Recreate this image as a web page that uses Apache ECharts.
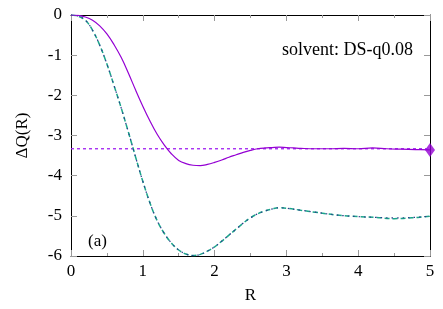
<!DOCTYPE html>
<html><head><meta charset="utf-8">
<script src="https://cdn.jsdelivr.net/npm/echarts@6/dist/echarts.min.js"></script>
<style>html,body{margin:0;padding:0;background:#fff}#c{width:443px;height:309px}</style>
</head><body><div id="c"></div>
<script>
var rPurple = [0,0.1,0.2,0.3,0.4,0.5,0.6,0.7,0.8,0.9,1.0,1.1,1.2,1.3,1.4,1.5,1.6,1.7,1.8,1.9,2.0,2.1,2.2,2.3,2.4,2.5,2.6,2.7,2.8,2.9,3.0,3.1,3.2,3.4,3.6,3.8,4.0,4.2,4.4,4.6,4.8,5.0];
var qPurple = [0,-0.01,-0.05,-0.13,-0.27,-0.47,-0.74,-1.06,-1.45,-1.87,-2.27,-2.64,-2.97,-3.24,-3.46,-3.62,-3.70,-3.74,-3.75,-3.72,-3.67,-3.61,-3.54,-3.48,-3.42,-3.37,-3.33,-3.31,-3.30,-3.29,-3.30,-3.31,-3.32,-3.33,-3.33,-3.32,-3.33,-3.31,-3.33,-3.34,-3.35,-3.36];
var rGreen = [0,0.1,0.2,0.3,0.4,0.5,0.6,0.7,0.8,0.9,1.0,1.1,1.2,1.3,1.4,1.5,1.6,1.7,1.8,1.9,2.0,2.1,2.2,2.3,2.4,2.5,2.6,2.7,2.8,2.9,3.0,3.2,3.4,3.7,4.0,4.25,4.5,4.75,5.0];
var qGreen = [0,-0.03,-0.13,-0.38,-0.75,-1.22,-1.76,-2.32,-2.92,-3.54,-4.14,-4.68,-5.12,-5.44,-5.68,-5.85,-5.95,-5.99,-5.96,-5.88,-5.77,-5.63,-5.48,-5.33,-5.18,-5.05,-4.95,-4.88,-4.83,-4.80,-4.81,-4.86,-4.91,-4.98,-5.02,-5.04,-5.07,-5.05,-5.01];
var qBlue  = [0,-0.03,-0.13,-0.38,-0.75,-1.22,-1.76,-2.32,-2.92,-3.54,-4.14,-4.68,-5.12,-5.44,-5.68,-5.85,-5.95,-5.99,-5.96,-5.88,-5.77,-5.63,-5.48,-5.33,-5.18,-5.05,-4.95,-4.88,-4.83,-4.80,-4.81,-4.86,-4.91,-4.98,-5.02,-5.04,-5.05,-5.04,-5.01];
var plateau = -3.33;
var endPoint = [5, -3.36];
var xTicks = [0,1,2,3,4,5];
var yTicks = [0,-1,-2,-3,-4,-5,-6];
var titleText = 'solvent: DS-q0.08';
var panelText = '(a)';

function zip(a,b){return a.map(function(v,i){return [v,b[i]];});}
var font = 'Liberation Serif';
var tickStyle = {show:true, inside:true, length:6, lineStyle:{color:'#999', width:1}};
var minorStyle = {show:true, splitNumber:2, length:3, lineStyle:{color:'#999', width:1}};
var chart = echarts.init(document.getElementById('c'), null, {renderer:'canvas'});
chart.setOption({
  animation:false,
  backgroundColor:'#fff',
  grid:{left:71, right:13, top:15, bottom:51},
  title:{text:titleText, right:25, top:36, textStyle:{fontFamily:font, fontSize:18, fontWeight:'normal', color:'#000'}},
  graphic:[{type:'text', left:88, top:233, style:{text:panelText, font:'17px "Liberation Serif"', fill:'#000'}}],
  xAxis:[{type:'value', min:0, max:5, interval:1, position:'bottom',
    name:'R', nameLocation:'middle', nameGap:31, nameTextStyle:{fontFamily:font, fontSize:17, color:'#000'},
    axisLine:{show:true, onZero:false, lineStyle:{color:'#000', width:1}},
    axisTick:tickStyle, minorTick:minorStyle, splitLine:{show:false},
    axisLabel:{fontFamily:font, fontSize:17, color:'#000', margin:7,
      formatter:function(v){return xTicks.indexOf(v)>=0?String(v):'';}}},
   {type:'value', min:0, max:5, interval:1, position:'top',
    axisLine:{show:true, onZero:false, lineStyle:{color:'#000', width:1}},
    axisTick:tickStyle, minorTick:minorStyle, splitLine:{show:false}, axisLabel:{show:false}}],
  yAxis:[{type:'value', min:-6, max:0, interval:1, position:'left',
    name:'ΔQ(R)', nameLocation:'middle', nameGap:40, nameTextStyle:{fontFamily:font, fontSize:17, color:'#000'},
    axisLine:{show:true, onZero:false, lineStyle:{color:'#000', width:1}},
    axisTick:tickStyle, splitLine:{show:false},
    axisLabel:{fontFamily:font, fontSize:17, color:'#000', margin:9,
      formatter:function(v){return yTicks.indexOf(v)>=0?String(v):'';}}},
   {type:'value', min:-6, max:0, interval:1, position:'right',
    axisLine:{show:true, onZero:false, lineStyle:{color:'#000', width:1}},
    axisTick:tickStyle, splitLine:{show:false}, axisLabel:{show:false}}],
  series:[
    {type:'line', name:'plateau', data:[[0,plateau],[5,plateau]], showSymbol:false, symbol:'none',
     lineStyle:{color:'#a020f0', width:1.3, type:[3,3]}},
    {type:'line', name:'green', data:zip(rGreen,qGreen), smooth:0.4, symbol:'none',
     lineStyle:{color:'#1aa58a', width:1.5, type:[5,3]}},
    {type:'line', name:'blue', data:zip(rGreen,qBlue), smooth:0.4, symbol:'none',
     lineStyle:{color:'#2c3e8c', width:1.2, type:[1.5,4]}},
    {type:'line', name:'purple', data:zip(rPurple,qPurple), smooth:0.4, symbol:'none',
     lineStyle:{color:'#9400d3', width:1.2}},
    {type:'scatter', name:'end', data:[endPoint], symbol:'diamond', symbolSize:[10,14],
     itemStyle:{color:'#9400d3'}}
  ]
});
</script></body></html>
